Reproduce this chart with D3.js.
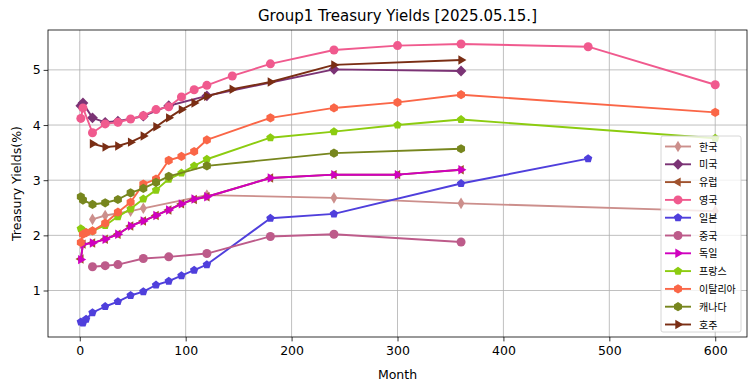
<!DOCTYPE html>
<html>
<head>
<meta charset="utf-8">
<script src="https://cdn.jsdelivr.net/npm/d3@7"></script>
<style>
  body { margin: 0; background: #fff; }
  svg { display: block; }
  text { font-family: "DejaVu Sans", sans-serif; fill: #000; }
  .leg text { font-family: "Noto Sans CJK KR", sans-serif; }
</style>
</head>
<body>
<svg id="chart" width="755" height="391"></svg>
<script>
// data (month -> yield %)
const krMonths = [12, 24, 48, 60, 120, 240, 360, 600];
const krYields = [2.29, 2.36, 2.44, 2.49, 2.73, 2.68, 2.58, 2.44];

const usMonths = [1, 3, 12, 24, 36, 60, 84, 120, 240, 360];
const usYields = [4.35, 4.40, 4.13, 4.05, 4.07, 4.16, 4.35, 4.53, 5.01, 4.98];

const euMonths = [1, 3, 12, 24, 36, 48, 60, 72, 84, 96, 108, 120, 180, 240, 300, 360];
const euYields = [1.57, 1.84, 1.86, 1.93, 2.02, 2.17, 2.26, 2.36, 2.46, 2.57, 2.65, 2.70, 3.04, 3.10, 3.10, 3.19];

const ukMonths = [1, 3, 12, 24, 36, 48, 60, 72, 84, 96, 108, 120, 144, 180, 240, 300, 360, 480, 600];
const ukYields = [4.12, 4.31, 3.86, 4.02, 4.05, 4.11, 4.17, 4.28, 4.33, 4.51, 4.64, 4.72, 4.89, 5.11, 5.36, 5.44, 5.47, 5.42, 4.73];

const jpMonths = [1, 3, 6, 12, 24, 36, 48, 60, 72, 84, 96, 108, 120, 180, 240, 360, 480];
const jpYields = [0.43, 0.41, 0.48, 0.60, 0.71, 0.80, 0.91, 0.98, 1.10, 1.17, 1.27, 1.37, 1.47, 2.31, 2.39, 2.94, 3.39];

const cnMonths = [12, 24, 36, 60, 84, 120, 180, 240, 360];
const cnYields = [1.43, 1.45, 1.47, 1.58, 1.61, 1.67, 1.98, 2.02, 1.88];

const deMonths = [1, 3, 12, 24, 36, 48, 60, 72, 84, 96, 108, 120, 180, 240, 300, 360];
const deYields = [1.56, 1.84, 1.86, 1.93, 2.02, 2.17, 2.26, 2.36, 2.46, 2.57, 2.66, 2.70, 3.04, 3.10, 3.10, 3.19];

const frMonths = [1, 3, 12, 24, 36, 48, 60, 72, 84, 96, 108, 120, 180, 240, 300, 360, 600];
const frYields = [2.12, 2.09, 2.08, 2.18, 2.34, 2.48, 2.66, 2.82, 3.02, 3.13, 3.26, 3.38, 3.77, 3.88, 4.00, 4.10, 3.76];

const itMonths = [1, 3, 6, 12, 24, 36, 48, 60, 72, 84, 96, 108, 120, 180, 240, 300, 360, 600];
const itYields = [1.87, 2.02, 2.05, 2.08, 2.22, 2.42, 2.60, 2.93, 3.02, 3.36, 3.43, 3.52, 3.73, 4.13, 4.31, 4.41, 4.55, 4.23];

const caMonths = [1, 3, 12, 24, 36, 48, 60, 72, 84, 120, 240, 360];
const caYields = [2.70, 2.64, 2.56, 2.59, 2.65, 2.77, 2.85, 2.96, 3.07, 3.26, 3.49, 3.57];

const auMonths = [12, 24, 36, 48, 60, 72, 84, 96, 108, 120, 144, 180, 240, 360];
const auYields = [3.66, 3.60, 3.62, 3.69, 3.80, 3.97, 4.13, 4.28, 4.40, 4.52, 4.65, 4.78, 5.09, 5.18];

const xTicks = [0, 100, 200, 300, 400, 500, 600];
const yTicks = [1, 2, 3, 4, 5];

const series = [
  { name: "한국", months: krMonths, yields: krYields, color: "#cc8f8c", marker: "thin_diamond" },
  { name: "미국", months: usMonths, yields: usYields, color: "#7b3375", marker: "diamond" },
  { name: "유럽", months: euMonths, yields: euYields, color: "#a0522d", marker: "tri_left" },
  { name: "영국", months: ukMonths, yields: ukYields, color: "#f05a8e", marker: "circle" },
  { name: "일본", months: jpMonths, yields: jpYields, color: "#4f3fdc", marker: "pentagon" },
  { name: "중국", months: cnMonths, yields: cnYields, color: "#bd5b8a", marker: "circle" },
  { name: "독일", months: deMonths, yields: deYields, color: "#d000bf", marker: "tri_right" },
  { name: "프랑스", months: frMonths, yields: frYields, color: "#8ccc10", marker: "pentagon" },
  { name: "이탈리아", months: itMonths, yields: itYields, color: "#fa6647", marker: "hexagon" },
  { name: "캐나다", months: caMonths, yields: caYields, color: "#77861e", marker: "hexagon" },
  { name: "호주", months: auMonths, yields: auYields, color: "#7a2e14", marker: "tri_right" }
];

const svg = d3.select("#chart");
const margin = { left: 48, right: 8, top: 30, bottom: 54 };
const W = 755, H = 391;
const plotW = W - margin.left - margin.right, plotH = H - margin.top - margin.bottom;

// matplotlib-style 5% padding
const allY = series.flatMap(s => s.yields);
const yMin = d3.min(allY), yMax = d3.max(allY), yPad = (yMax - yMin) * 0.05;
const x = d3.scaleLinear().domain([-30, 630]).range([0, plotW]);
const y = d3.scaleLinear().domain([yMin - yPad, yMax + yPad]).range([plotH, 0]);

const g = svg.append("g").attr("transform", `translate(${margin.left},${margin.top})`);

// grid
g.append("g").selectAll("line").data(xTicks).join("line")
  .attr("x1", d => x(d)).attr("x2", d => x(d)).attr("y1", 0).attr("y2", plotH)
  .attr("stroke", "#b0b0b0").attr("stroke-width", 0.8);
g.append("g").selectAll("line").data(yTicks).join("line")
  .attr("x1", 0).attr("x2", plotW).attr("y1", d => y(d)).attr("y2", d => y(d))
  .attr("stroke", "#b0b0b0").attr("stroke-width", 0.8);

// axes
const xAxis = g.append("g").attr("transform", `translate(0,${plotH})`)
  .call(d3.axisBottom(x).tickValues(xTicks).tickFormat(d3.format("d")).tickSize(4.4).tickPadding(5));
const yAxis = g.append("g")
  .call(d3.axisLeft(y).tickValues(yTicks).tickFormat(d3.format("d")).tickSize(4.4).tickPadding(3));
[xAxis, yAxis].forEach(a => {
  a.select(".domain").remove();
  a.selectAll("line").attr("stroke", "#000").attr("stroke-width", 0.8);
  a.selectAll("text").attr("font-family", "DejaVu Sans").attr("font-size", 12.5).attr("fill", "#000");
});

// marker paths
function poly(n, r, rot) {
  const pts = d3.range(n).map(k => {
    const a = rot + 2 * Math.PI * k / n;
    return [r * Math.cos(a), r * Math.sin(a)];
  });
  return "M" + pts.map(p => p.join(",")).join("L") + "Z";
}
function markerPath(kind) {
  switch (kind) {
    case "circle": return d3.symbol(d3.symbolCircle, Math.PI * 4.5 * 4.5)();
    case "diamond": return "M0,-5.4L5.4,0L0,5.4L-5.4,0Z";
    case "thin_diamond": return "M0,-5.8L3.5,0L0,5.8L-3.5,0Z";
    case "tri_right": return "M5.4,0L-2.7,-4.7L-2.7,4.7Z";
    case "tri_left": return "M-5.4,0L2.7,-4.7L2.7,4.7Z";
    case "pentagon": return poly(5, 4.4, -Math.PI / 2);
    case "hexagon": return poly(6, 4.6, -Math.PI / 2);
  }
}

const line = d3.line().x(d => x(d[0])).y(d => y(d[1]));
const plot = g.append("g");
series.forEach(s => {
  const pts = s.months.map((m, i) => [m, s.yields[i]]);
  const sg = plot.append("g");
  sg.append("path").attr("d", line(pts)).attr("fill", "none")
    .attr("stroke", s.color).attr("stroke-width", 1.9).attr("stroke-linejoin", "round");
  sg.selectAll("path.mk").data(pts).join("path").attr("class", "mk")
    .attr("d", markerPath(s.marker))
    .attr("transform", d => `translate(${x(d[0])},${y(d[1])})`)
    .attr("fill", s.color);
});

// frame
g.append("rect").attr("width", plotW).attr("height", plotH)
  .attr("fill", "none").attr("stroke", "#000").attr("stroke-width", 0.8);

// legend
const leg = g.append("g").attr("class", "leg").attr("transform", `translate(${661 - margin.left},${136 - margin.top})`);
leg.append("rect").attr("width", 80).attr("height", 196).attr("rx", 2)
  .attr("fill", "#fff").attr("fill-opacity", 0.8).attr("stroke", "#cccccc").attr("stroke-width", 0.8);
series.forEach((s, i) => {
  const ly = 10.5 + i * 17.8;
  const e = leg.append("g").attr("transform", `translate(0,${ly})`);
  e.append("line").attr("x1", 4).attr("x2", 30).attr("stroke", s.color).attr("stroke-width", 1.9);
  e.append("path").attr("d", markerPath(s.marker)).attr("transform", "translate(17,0)").attr("fill", s.color);
  e.append("text").attr("x", 38).attr("y", 4).attr("font-size", 10).text(s.name);
});

// title and labels
svg.append("text").attr("x", margin.left + plotW / 2).attr("y", 21).attr("text-anchor", "middle")
  .attr("font-size", 15).text("Group1 Treasury Yields [2025.05.15.]");
svg.append("text").attr("x", margin.left + plotW / 2).attr("y", 379).attr("text-anchor", "middle")
  .attr("font-size", 12.5).text("Month");
svg.append("text").attr("transform", `translate(21,${margin.top + plotH / 2}) rotate(-90)`)
  .attr("text-anchor", "middle").attr("font-size", 12.5).text("Treasury Yields(%)");
</script>
</body>
</html>
